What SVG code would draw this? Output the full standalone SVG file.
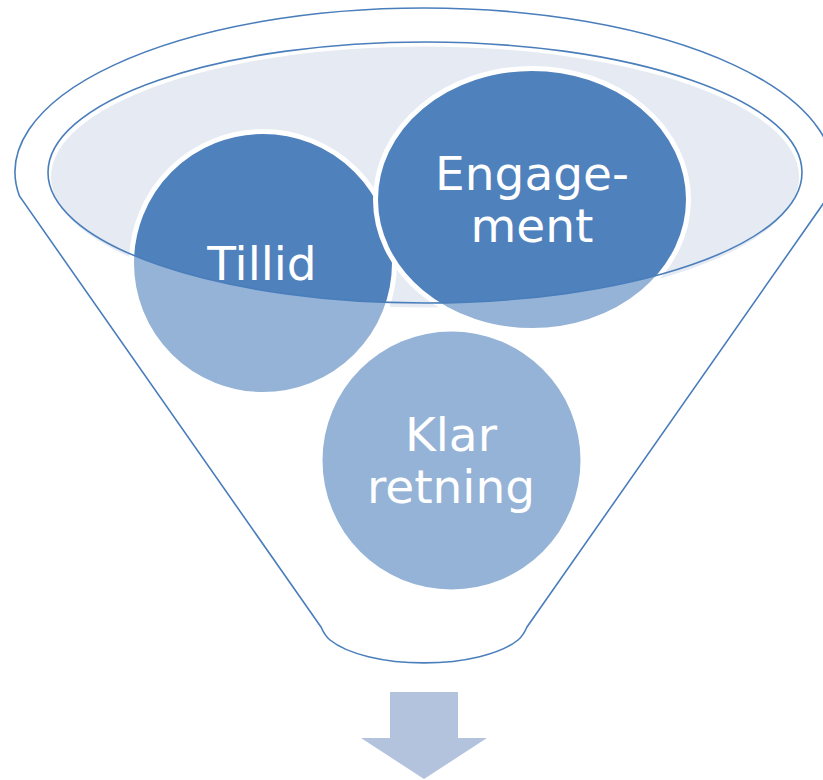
<svg xmlns="http://www.w3.org/2000/svg" width="823" height="780" viewBox="0 0 823 780">
  <style>
    .edge { fill: none; stroke: #4A7EBB; stroke-width: 1.6; }
    .light { fill: #95B3D7; }
    .dark { fill: #4F81BD; }
    .ring { fill: none; stroke: #FFFFFF; stroke-width: 5; }
    .label { font-family: "DejaVu Sans", Verdana, sans-serif; font-size: 47px; fill: #FFFFFF; text-anchor: middle; }
  </style>
  <defs>
    <clipPath id="rimClip">
      <ellipse cx="425" cy="172.5" rx="377" ry="130.5"/>
    </clipPath>
  </defs>
  <rect width="823" height="780" fill="#FFFFFF"/>

  <g id="funnel">
    <path class="edge" d="M 321,627 L 19.4,196 A 409 164 0 1 1 828.6,196 L 527,627 Q 523,636 518,640 A 104 40 0 0 1 330,640 Q 325,636 321,627 Z"/>
    <ellipse cx="425" cy="177" rx="374" ry="130.5" fill="#E5EAF3"/>
  </g>

  <g id="node-tillid">
    <circle class="light" cx="263" cy="263" r="131.5"/>
    <circle class="dark" cx="263" cy="263" r="131.5" clip-path="url(#rimClip)"/>
    <circle class="ring" cx="263" cy="263" r="131.5"/>
    <text class="label" x="262" y="280">Tillid</text>
  </g>

  <g id="node-engagement">
    <ellipse class="light" cx="532" cy="199.5" rx="156.5" ry="131"/>
    <ellipse class="dark" cx="532" cy="199.5" rx="156.5" ry="131" clip-path="url(#rimClip)"/>
    <ellipse class="ring" cx="532" cy="199.5" rx="156.5" ry="131"/>
    <text class="label" x="532" y="190">Engage-</text>
    <text class="label" x="532" y="242">ment</text>
  </g>

  <g id="node-klar">
    <circle class="light" cx="451.5" cy="460.5" r="129"/>
    <text class="label" x="451" y="451">Klar</text>
    <text class="label" x="451" y="503">retning</text>
  </g>

  <g id="rim">
    <ellipse class="edge" cx="425" cy="172.5" rx="377" ry="130.5"/>
  </g>

  <g id="connectors">
    <polygon points="390,692 458,692 458,738 487,738 424,779 361,738 390,738" fill="#B3C3DE"/>
  </g>
</svg>
